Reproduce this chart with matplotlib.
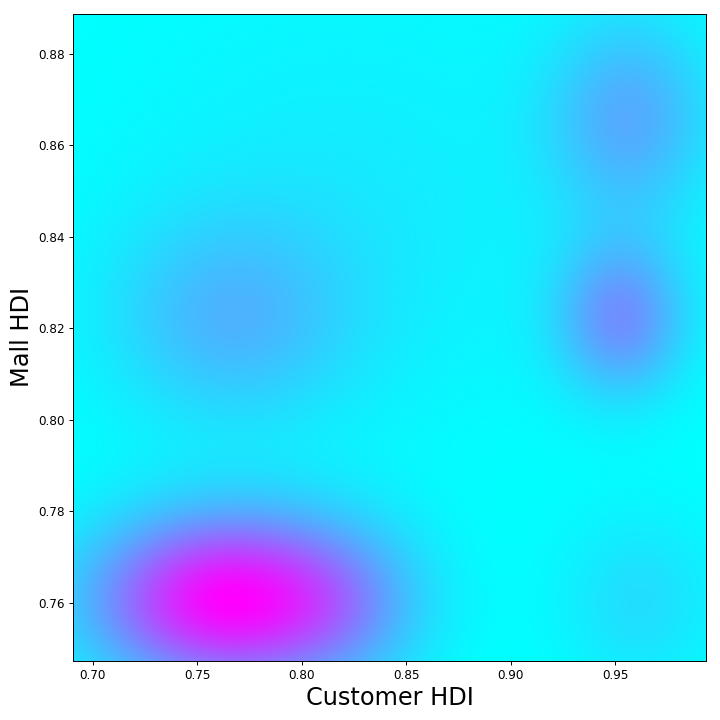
import numpy as np
import matplotlib
matplotlib.use("Agg")
import matplotlib.pyplot as plt

# axis range of the data (customer HDI, mall HDI)
x_range = [0.6904, 0.9935]
y_range = [0.7473, 0.8887]

# density clusters: centre, spread and relative weight
cluster_x = [0.764, 0.822, 0.953, 0.957, 0.765, 0.962, 0.820]
cluster_y = [0.7604, 0.759, 0.822, 0.866, 0.822, 0.760, 0.845]
cluster_sx = [0.044, 0.028, 0.022, 0.028, 0.040, 0.028, 0.080]
cluster_sy = [0.013, 0.013, 0.012, 0.016, 0.016, 0.014, 0.035]
cluster_w = [0.97, 0.18, 0.42, 0.32, 0.25, 0.14, 0.09]

xs = np.linspace(x_range[0], x_range[1], 300)
ys = np.linspace(y_range[0], y_range[1], 300)
X, Y = np.meshgrid(xs, ys)
Z = np.zeros_like(X)
for cx, cy, sx, sy, w in zip(cluster_x, cluster_y, cluster_sx, cluster_sy, cluster_w):
    Z += w * np.exp(-0.5 * (((X - cx) / sx) ** 2 + ((Y - cy) / sy) ** 2))

fig, ax = plt.subplots(figsize=(10, 10), dpi=72)
ax.imshow(Z, cmap='cool', origin='lower', aspect='auto',
          extent=[x_range[0], x_range[1], y_range[0], y_range[1]])
ax.set_xlabel("Customer HDI", fontsize=24)
ax.set_ylabel("Mall HDI", fontsize=24)
ax.tick_params(labelsize=12, length=4.2, width=0.96)
for sp in ax.spines.values():
    sp.set_linewidth(0.96)
plt.subplots_adjust(left=0.101, right=0.981, top=0.981, bottom=0.082)
plt.savefig("out.png")
